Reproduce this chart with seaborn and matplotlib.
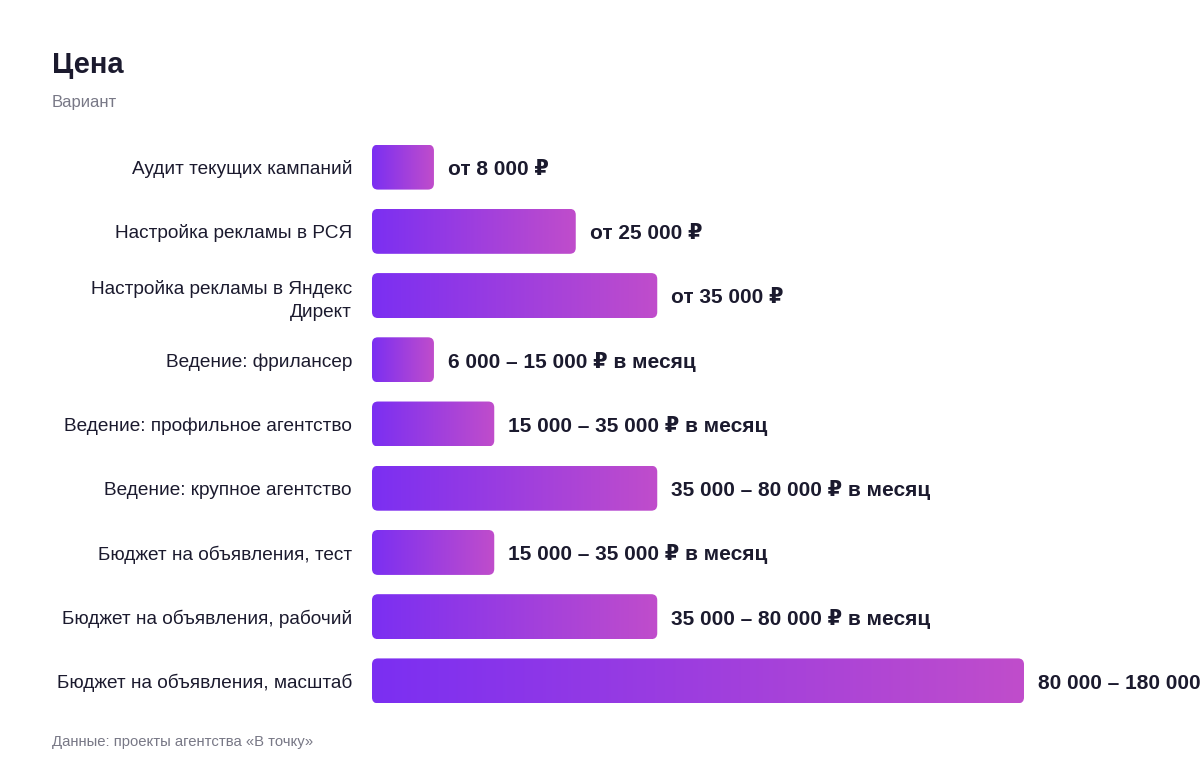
import numpy as np
import pandas as pd
import matplotlib
matplotlib.use("Agg")
import matplotlib.pyplot as plt
from matplotlib.patches import FancyBboxPatch
from matplotlib.colors import LinearSegmentedColormap
import seaborn as sns

# Данные
categories = [
    "Аудит текущих кампаний",
    "Настройка рекламы в РСЯ",
    "Настройка рекламы в Яндекс\nДирект",
    "Ведение: фрилансер",
    "Ведение: профильное агентство",
    "Ведение: крупное агентство",
    "Бюджет на объявления, тест",
    "Бюджет на объявления, рабочий",
    "Бюджет на объявления, масштаб",
]
bar_values = [7600, 25000, 35000, 7600, 15000, 35000, 15000, 35000, 80000]
price_labels = [
    "от 8 000 ₽",
    "от 25 000 ₽",
    "от 35 000 ₽",
    "6 000 – 15 000 ₽ в месяц",
    "15 000 – 35 000 ₽ в месяц",
    "35 000 – 80 000 ₽ в месяц",
    "15 000 – 35 000 ₽ в месяц",
    "35 000 – 80 000 ₽ в месяц",
    "80 000 – 180 000 ₽ в месяц",
]

TITLE_COLOR = "#1b1a2e"
GRAY = "#787886"
GRAD = LinearSegmentedColormap.from_list("grad", ["#7b2ff2", "#c04dcb"])

sns.set_theme(style="white")
plt.rcParams["font.family"] = ["Liberation Sans", "DejaVu Sans"]

W, H = 1200, 776
fig = plt.figure(figsize=(W / 100, H / 100), dpi=100)
ax = fig.add_axes([372 / W, 63 / H, 828 / W, 578 / H])

df = pd.DataFrame({"cat": categories, "val": bar_values})
sns.barplot(data=df, x="val", y="cat", orient="h", width=0.7, ax=ax,
            color="#7b2ff2")

x_max = max(bar_values) * 828 / 652
ax.set_xlim(0, x_max)
ax.set_ylim(len(categories) - 0.5, -0.5)

# пикселей на единицу данных
px_x = 828 / x_max
px_y = 578 / len(categories)
radius_px = 6
r_x = radius_px / px_x
aspect = (radius_px / px_y) / r_x

# градиентная заливка со скруглёнными углами
grad_img = np.linspace(0, 1, 256).reshape(1, -1)
for patch, label in zip(list(ax.patches), price_labels):
    x0, y0 = patch.get_x(), patch.get_y()
    w, h = patch.get_width(), patch.get_height()
    patch.remove()
    box = FancyBboxPatch((x0, y0), w, h,
                         boxstyle=f"round,pad=0,rounding_size={r_x}",
                         mutation_aspect=aspect, facecolor="none",
                         edgecolor="none", transform=ax.transData)
    ax.add_patch(box)
    im = ax.imshow(grad_img, cmap=GRAD, aspect="auto",
                   extent=(x0, x0 + w, y0 + h, y0), zorder=2)
    im.set_clip_path(box)
    ax.text(x0 + w + 14 / px_x, y0 + h / 2 + 2 / px_y, label, ha="left",
            va="center", fontsize=15, fontweight="bold", color=TITLE_COLOR,
            clip_on=False)

ax.set_xlim(0, x_max)
ax.set_ylim(len(categories) - 0.5, -0.5)
ax.set_xlabel("")
ax.set_ylabel("")
ax.set_xticks([])
ax.tick_params(axis="y", length=0, pad=14.4, labelsize=13.7,
               labelcolor=TITLE_COLOR)
for t in ax.get_yticklabels():
    t.set_multialignment("right")
    t.set_linespacing(1.45)
sns.despine(ax=ax, left=True, bottom=True)

fig.text(52 / W, 1 - 65 / H, "Цена", fontsize=21, fontweight="bold",
         color=TITLE_COLOR, ha="left", va="center")
fig.text(52 / W, 1 - 103 / H, "Вариант", fontsize=12, color=GRAY,
         ha="left", va="center")
fig.text(52 / W, 1 - 742 / H, "Данные: проекты агентства «В точку»",
         fontsize=10.7, color=GRAY, ha="left", va="center")

fig.savefig("out.png", dpi=100)
